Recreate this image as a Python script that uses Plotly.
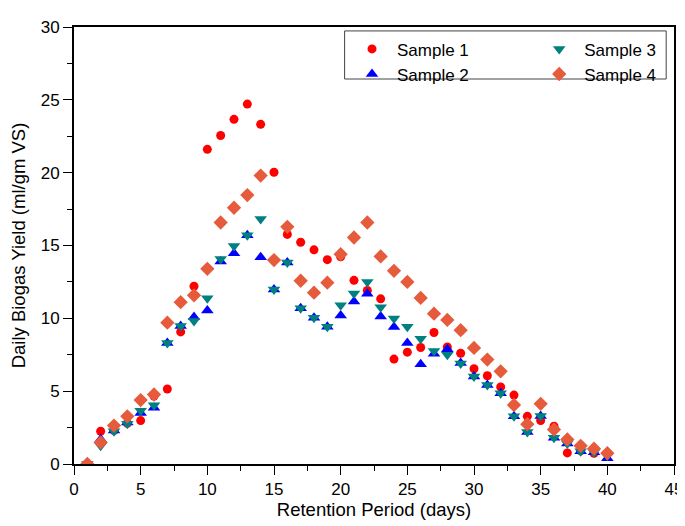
import plotly.graph_objects as go

days = list(range(1, 41))

sample1 = [0, 2.25, 2.3, 2.8, 2.98, 4.66, 5.15, 9.07, 12.2, 21.6,
           22.55, 23.66, 24.71, 23.32, 20.03, 15.76, 15.22, 14.7, 14.03, 14.23,
           12.61, 11.91, 11.34, 7.2, 7.68, 8.0, 9.03, 8.04, 7.6, 6.54,
           6.06, 5.29, 4.73, 3.27, 2.98, 2.59, 0.76, 0.9, 0.74, 0.72]

sample2 = [0, 1.7, 2.3, 2.85, 3.5, 3.87, 8.31, 9.48, 10.1, 10.53,
           13.9, 14.47, 15.7, 14.2, 11.98, 13.84, 10.7, 10.04, 9.43, 10.19,
           11.16, 11.69, 10.12, 9.41, 8.3, 6.84, 7.57, 7.88, 6.94, 6.0,
           5.42, 4.85, 3.27, 2.2, 3.3, 1.81, 1.41, 0.88, 0.8, 0.4]

sample3 = [0, 1.26, 2.24, 2.76, 3.65, 4.03, 8.31, 9.48, 9.81, 11.38,
           14.07, 14.97, 15.7, 16.82, 11.98, 13.84, 10.7, 10.04, 9.43, 10.89,
           11.71, 12.5, 10.76, 9.99, 9.43, 8.6, 7.75, 7.5, 6.9, 6.0,
           5.42, 4.85, 3.27, 2.2, 3.3, 1.81, 1.41, 0.88, 0.8, 0.56]

sample4 = [0, 1.48, 2.64, 3.27, 4.39, 4.77, 9.7, 11.11, 11.58, 13.4,
           16.58, 17.59, 18.46, 19.8, 14.0, 16.28, 12.58, 11.76, 12.45, 14.4,
           15.55, 16.58, 14.25, 13.26, 12.5, 11.4, 10.32, 9.89, 9.19, 7.97,
           7.17, 6.36, 4.05, 2.73, 4.13, 2.37, 1.69, 1.25, 1.05, 0.74]

names = ["Sample 1", "Sample 2", "Sample 3", "Sample 4"]
colors = ["#FF0000", "#0000FF", "#008080", "#E55B3C"]
symbols = ["circle", "triangle-up", "triangle-down", "diamond"]
sizes = [9, 11, 11, 11]
legends = ["legend", "legend", "legend2", "legend2"]

fig = go.Figure()
for vals, name, col, sym, sz, lg in zip([sample1, sample2, sample3, sample4],
                                         names, colors, symbols, sizes, legends):
    fig.add_trace(go.Scatter(
        x=days, y=vals, mode="markers", name=name, legend=lg,
        marker=dict(color=col, symbol=sym, size=sz, line=dict(width=0)),
    ))

axis_common = dict(
    showline=True, linecolor="black", linewidth=1.8, mirror=True,
    ticks="outside", ticklen=9, tickwidth=1.3, tickcolor="black",
    showgrid=False, zeroline=False,
    tickfont=dict(family="Liberation Sans, Arial", size=17, color="black"),
    minor=dict(ticks="outside", ticklen=5, tickwidth=1.3, tickcolor="black", dtick=2.5, showgrid=False),
)

legend_common = dict(bgcolor="rgba(0,0,0,0)", borderwidth=0, tracegroupgap=0,
                     font=dict(size=17), itemwidth=40, yanchor="top", xanchor="left")

fig.update_layout(
    width=685, height=526,
    margin=dict(l=65, r=10, t=10, b=70),
    plot_bgcolor="white", paper_bgcolor="white",
    font=dict(family="Liberation Sans, Arial", color="black"),
    xaxis=dict(range=[0, 45], dtick=5, tick0=0,
               title=dict(text="Retention Period (days)", font=dict(size=18.5), standoff=4),
               **axis_common),
    yaxis=dict(range=[0, 30], dtick=5, tick0=0,
               title=dict(text="Daily Biogas Yield (ml/gm VS)", font=dict(size=18.5), standoff=10),
               **axis_common),
    legend=dict(x=0.455, y=0.99, **legend_common),
    legend2=dict(x=0.767, y=0.99, **legend_common),
    shapes=[dict(type="rect", xref="paper", yref="paper",
                 x0=0.451, x1=0.987, y0=0.881, y1=0.991,
                 line=dict(color="#444444", width=1))],
)

fig.write_html("out.html")
